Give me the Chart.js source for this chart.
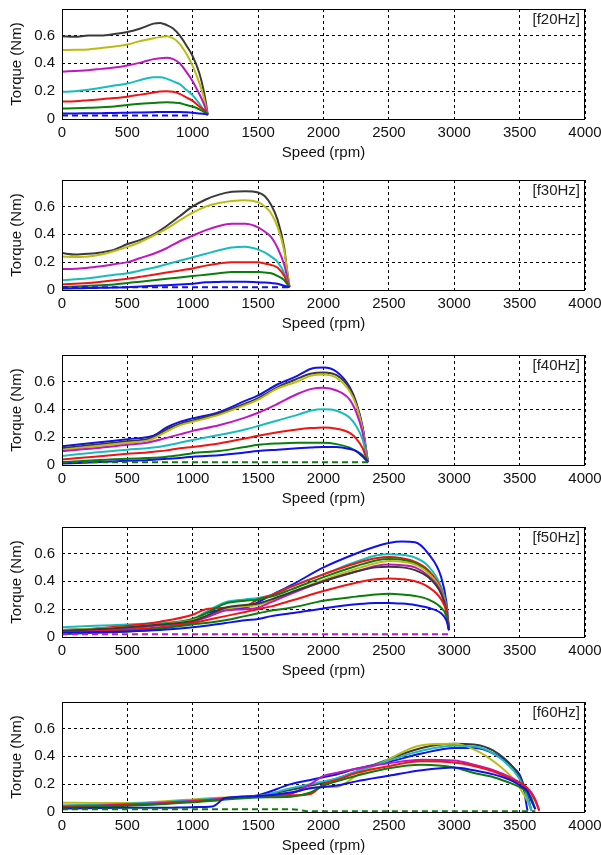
<!DOCTYPE html>
<html>
<head>
<meta charset="utf-8">
<script src="https://cdn.jsdelivr.net/npm/chart.js@4.4.1/dist/chart.umd.min.js"></script>
<style>
  body { margin: 0; background: #fff; width: 601px; height: 855px; overflow: hidden; position: relative; }
  .panel { position: absolute; left: 0; width: 601px; height: 171px; }
</style>
</head>
<body>
<div class="panel" style="top:0px"><canvas id="c20" width="601" height="171"></canvas></div>
<div class="panel" style="top:171px"><canvas id="c30" width="601" height="171"></canvas></div>
<div class="panel" style="top:346px"><canvas id="c40" width="601" height="171"></canvas></div>
<div class="panel" style="top:518px"><canvas id="c50" width="601" height="171"></canvas></div>
<div class="panel" style="top:693px"><canvas id="c60" width="601" height="171"></canvas></div>
<script>
// ---- datos ----
const xTicks = [0, 500, 1000, 1500, 2000, 2500, 3000, 3500, 4000];
const yTicks = [0, 0.2, 0.4, 0.6];

// f = 20 Hz
const speed20 = [0, 100, 200, 300, 400, 500, 600, 700, 750, 800, 850, 900, 950, 1000, 1050, 1080, 1100, 1115];
const f20Black   = [0.595, 0.59, 0.6, 0.6, 0.61, 0.625, 0.65, 0.685, 0.69, 0.675, 0.65, 0.6, 0.53, 0.45, 0.33, 0.22, 0.12, 0.03];
const f20Yellow  = [0.495, 0.497, 0.5, 0.51, 0.52, 0.535, 0.56, 0.58, 0.588, 0.595, 0.58, 0.54, 0.47, 0.38, 0.26, 0.17, 0.09, 0.03];
const f20Magenta = [0.34, 0.345, 0.35, 0.36, 0.37, 0.385, 0.405, 0.43, 0.437, 0.44, 0.43, 0.4, 0.34, 0.27, 0.18, 0.12, 0.07, 0.03];
const f20Cyan    = [0.195, 0.2, 0.21, 0.225, 0.24, 0.255, 0.28, 0.3, 0.3, 0.29, 0.27, 0.25, 0.21, 0.17, 0.11, 0.07, 0.05, 0.03];
const f20Red     = [0.125, 0.128, 0.135, 0.142, 0.15, 0.16, 0.175, 0.19, 0.197, 0.2, 0.195, 0.18, 0.155, 0.13, 0.09, 0.07, 0.05, 0.03];
const f20Green   = [0.075, 0.077, 0.08, 0.085, 0.09, 0.1, 0.11, 0.115, 0.118, 0.12, 0.118, 0.115, 0.1, 0.09, 0.07, 0.055, 0.045, 0.03];
const f20Blue    = [0.04, 0.04, 0.041, 0.042, 0.043, 0.045, 0.047, 0.049, 0.05, 0.05, 0.05, 0.05, 0.048, 0.045, 0.04, 0.037, 0.035, 0.03];
const f20BlueDash = [0.025, 0.025, 0.025, 0.025, 0.025, 0.025, 0.025, 0.025, 0.025, 0.025, 0.025, 0.025, 0.025, 0.025, null, null, null, null];

// f = 30 Hz
const speed30 = [0, 100, 200, 300, 400, 500, 600, 700, 800, 900, 1000, 1100, 1200, 1300, 1400, 1500, 1550, 1600, 1650, 1700, 1720, 1740];
const f30Black   = [0.265, 0.255, 0.26, 0.27, 0.29, 0.33, 0.36, 0.4, 0.46, 0.53, 0.6, 0.65, 0.685, 0.705, 0.71, 0.7, 0.675, 0.61, 0.5, 0.3, 0.15, 0.02];
const f30Yellow  = [0.24, 0.237, 0.24, 0.255, 0.28, 0.31, 0.345, 0.39, 0.44, 0.5, 0.555, 0.6, 0.625, 0.64, 0.645, 0.63, 0.6, 0.55, 0.45, 0.28, 0.15, 0.02];
const f30Magenta = [0.15, 0.152, 0.16, 0.17, 0.185, 0.2, 0.23, 0.26, 0.3, 0.35, 0.39, 0.43, 0.46, 0.475, 0.475, 0.45, 0.42, 0.38, 0.3, 0.18, 0.1, 0.02];
const f30Cyan    = [0.07, 0.077, 0.085, 0.097, 0.11, 0.12, 0.14, 0.16, 0.185, 0.21, 0.235, 0.26, 0.285, 0.305, 0.31, 0.29, 0.27, 0.24, 0.2, 0.12, 0.07, 0.02];
const f30Red     = [0.04, 0.045, 0.05, 0.06, 0.07, 0.08, 0.095, 0.11, 0.125, 0.14, 0.155, 0.175, 0.19, 0.2, 0.2, 0.2, 0.19, 0.18, 0.16, 0.1, 0.06, 0.02];
const f30Green   = [0.02, 0.025, 0.03, 0.035, 0.04, 0.05, 0.06, 0.07, 0.08, 0.09, 0.1, 0.11, 0.12, 0.13, 0.13, 0.13, 0.125, 0.12, 0.1, 0.07, 0.045, 0.02];
const f30Blue    = [0.01, 0.012, 0.014, 0.016, 0.018, 0.02, 0.025, 0.03, 0.035, 0.04, 0.045, 0.055, 0.058, 0.06, 0.06, 0.055, 0.053, 0.05, 0.045, 0.03, 0.025, 0.02];
const f30BlueDash = [0.02, 0.02, 0.02, 0.02, 0.02, 0.02, 0.02, 0.02, 0.02, 0.02, 0.02, 0.02, 0.02, 0.02, 0.02, 0.02, 0.02, 0.02, 0.02, 0.02, 0.02, 0.02];

// f = 40 Hz
const speed40 = [0, 250, 500, 650, 700, 800, 900, 1000, 1200, 1400, 1500, 1650, 1800, 1900, 2000, 2100, 2200, 2250, 2300, 2320, 2340];
const f40GreenDash = [0.02, 0.02, 0.02, 0.02, 0.02, 0.02, 0.02, 0.02, 0.02, 0.02, 0.02, 0.02, 0.02, 0.02, 0.02, 0.02, 0.02, 0.02, 0.02, 0.02, 0.02];
const f40Blue2   = [0.01, 0.02, 0.03, 0.035, 0.037, 0.045, 0.05, 0.06, 0.07, 0.09, 0.1, 0.11, 0.12, 0.125, 0.13, 0.13, 0.115, 0.1, 0.06, 0.04, 0.02];
const f40Green   = [0.02, 0.035, 0.045, 0.05, 0.052, 0.06, 0.07, 0.085, 0.1, 0.13, 0.145, 0.155, 0.16, 0.16, 0.16, 0.15, 0.125, 0.1, 0.07, 0.05, 0.02];
const f40Red     = [0.04, 0.06, 0.08, 0.09, 0.095, 0.105, 0.12, 0.13, 0.155, 0.19, 0.21, 0.235, 0.255, 0.265, 0.27, 0.26, 0.23, 0.19, 0.12, 0.07, 0.02];
const f40Cyan    = [0.065, 0.09, 0.11, 0.12, 0.125, 0.14, 0.16, 0.18, 0.215, 0.255, 0.28, 0.32, 0.36, 0.39, 0.4, 0.39, 0.34, 0.28, 0.18, 0.1, 0.02];
const f40Magenta = [0.1, 0.12, 0.145, 0.16, 0.17, 0.195, 0.22, 0.245, 0.285, 0.34, 0.375, 0.44, 0.51, 0.545, 0.555, 0.535, 0.47, 0.38, 0.23, 0.12, 0.02];
const f40Yellow  = [0.11, 0.135, 0.16, 0.175, 0.19, 0.24, 0.285, 0.31, 0.36, 0.43, 0.47, 0.55, 0.6, 0.64, 0.65, 0.625, 0.53, 0.43, 0.25, 0.14, 0.02];
const f40Black   = [0.12, 0.145, 0.17, 0.185, 0.2, 0.255, 0.295, 0.32, 0.37, 0.44, 0.48, 0.56, 0.62, 0.655, 0.665, 0.645, 0.55, 0.44, 0.26, 0.14, 0.02];
const f40BlueTop = [0.135, 0.16, 0.185, 0.2, 0.21, 0.27, 0.31, 0.335, 0.38, 0.46, 0.5, 0.58, 0.64, 0.69, 0.7, 0.67, 0.56, 0.45, 0.27, 0.15, 0.02];

// f = 50 Hz
const speed50 = [0, 250, 500, 750, 1000, 1100, 1250, 1400, 1500, 1600, 1750, 2000, 2250, 2400, 2500, 2600, 2700, 2800, 2900, 2940, 2960];
const f50MagentaDash = [0.02, 0.02, 0.02, 0.02, 0.02, 0.02, 0.02, 0.02, 0.02, 0.02, 0.02, 0.02, 0.02, 0.02, 0.02, 0.02, 0.02, 0.02, 0.02, 0.02, 0.02];
const f50Blue2   = [0.03, 0.035, 0.04, 0.05, 0.07, 0.08, 0.1, 0.12, 0.13, 0.15, 0.17, 0.205, 0.235, 0.245, 0.245, 0.24, 0.23, 0.21, 0.17, 0.12, 0.05];
const f50Green2  = [0.02, 0.03, 0.04, 0.06, 0.09, 0.1, 0.12, 0.15, 0.17, 0.19, 0.21, 0.26, 0.29, 0.305, 0.31, 0.305, 0.295, 0.27, 0.21, 0.15, 0.05];
const f50Red2    = [0.03, 0.04, 0.05, 0.07, 0.1, 0.12, 0.15, 0.18, 0.2, 0.22, 0.26, 0.33, 0.39, 0.415, 0.42, 0.415, 0.4, 0.36, 0.27, 0.18, 0.05];
const f50Black   = [0.045, 0.055, 0.07, 0.09, 0.115, 0.15, 0.21, 0.23, 0.24, 0.27, 0.32, 0.4, 0.47, 0.5, 0.505, 0.5, 0.48, 0.43, 0.31, 0.19, 0.05];
const f50Magenta = [0.04, 0.05, 0.065, 0.085, 0.11, 0.14, 0.19, 0.2, 0.21, 0.25, 0.31, 0.4, 0.47, 0.51, 0.52, 0.515, 0.5, 0.44, 0.32, 0.19, 0.05];
const f50Yellow  = [0.05, 0.06, 0.07, 0.09, 0.12, 0.15, 0.2, 0.22, 0.23, 0.26, 0.32, 0.41, 0.49, 0.53, 0.545, 0.54, 0.52, 0.46, 0.33, 0.2, 0.05];
const f50Green   = [0.03, 0.04, 0.06, 0.09, 0.13, 0.17, 0.24, 0.26, 0.27, 0.29, 0.34, 0.43, 0.51, 0.55, 0.56, 0.555, 0.53, 0.47, 0.33, 0.2, 0.05];
const f50Red     = [0.04, 0.06, 0.08, 0.11, 0.16, 0.2, 0.21, 0.22, 0.27, 0.3, 0.36, 0.45, 0.53, 0.565, 0.575, 0.565, 0.54, 0.48, 0.34, 0.2, 0.05];
const f50Cyan    = [0.07, 0.08, 0.09, 0.1, 0.13, 0.18, 0.25, 0.27, 0.28, 0.3, 0.36, 0.45, 0.54, 0.585, 0.595, 0.59, 0.57, 0.51, 0.36, 0.22, 0.05];
const f50BlueTop = [0.05, 0.06, 0.07, 0.09, 0.12, 0.17, 0.2, 0.21, 0.25, 0.3, 0.37, 0.5, 0.6, 0.65, 0.675, 0.685, 0.68, 0.6, 0.43, 0.25, 0.05];

// f = 60 Hz
const speed60 = [0, 250, 500, 750, 1000, 1150, 1250, 1500, 1750, 1900, 2000, 2100, 2250, 2500, 2750, 3000, 3150, 3300, 3450, 3520, 3560, 3590, 3620, 3650];
const f60GreenDash = [0.02, 0.02, 0.02, 0.02, 0.02, 0.02, 0.02, 0.02, 0.02, 0.005, 0.005, 0.005, 0.005, 0.005, 0.005, 0.005, 0.005, 0.005, 0.005, 0.005, 0.005, 0.005, 0.005, null];
const f60Blue2   = [0.025, 0.028, 0.03, 0.03, 0.035, 0.04, 0.1, 0.115, 0.14, 0.17, 0.18, 0.19, 0.22, 0.26, 0.3, 0.32, 0.3, 0.27, 0.22, 0.18, 0.15, 0.08, 0.02, null];
const f60Green   = [0.03, 0.035, 0.045, 0.055, 0.07, 0.08, 0.09, 0.105, 0.11, 0.14, 0.19, 0.22, 0.26, 0.315, 0.34, 0.32, 0.28, 0.25, 0.2, 0.17, 0.14, 0.1, 0.02, null];
const f60Red     = [0.035, 0.04, 0.05, 0.06, 0.075, 0.085, 0.095, 0.11, 0.12, 0.13, 0.2, 0.23, 0.28, 0.33, 0.365, 0.355, 0.33, 0.29, 0.23, 0.2, 0.17, 0.13, 0.08, 0.01];
const f60Magenta = [0.04, 0.045, 0.055, 0.065, 0.08, 0.09, 0.1, 0.11, 0.13, 0.2, 0.26, 0.28, 0.31, 0.35, 0.375, 0.37, 0.34, 0.3, 0.24, 0.2, 0.17, 0.14, 0.09, 0.01];
const f60Cyan    = [0.045, 0.05, 0.06, 0.07, 0.085, 0.095, 0.1, 0.115, 0.17, 0.2, 0.22, 0.24, 0.29, 0.37, 0.44, 0.475, 0.47, 0.42, 0.3, 0.2, 0.1, 0.01, null, null];
const f60Yellow  = [0.067, 0.065, 0.065, 0.075, 0.09, 0.1, 0.105, 0.115, 0.14, 0.17, 0.18, 0.18, 0.26, 0.38, 0.48, 0.49, 0.45, 0.365, 0.24, 0.145, 0.08, 0.01, null, null];
const f60Black   = [0.045, 0.05, 0.06, 0.07, 0.085, 0.095, 0.1, 0.115, 0.16, 0.19, 0.21, 0.24, 0.29, 0.38, 0.46, 0.49, 0.485, 0.44, 0.32, 0.22, 0.12, 0.01, null, null];
const f60BlueTop = [0.04, 0.045, 0.055, 0.07, 0.085, 0.095, 0.1, 0.12, 0.2, 0.23, 0.25, 0.27, 0.31, 0.36, 0.42, 0.46, 0.46, 0.42, 0.32, 0.22, 0.01, null, null, null];

// colores tipo MATLAB
const C = {
  b: '#1010f0', g: '#0a7d0a', r: '#f01414', c: '#18bcbc',
  m: '#c018c0', y: '#bcbc10', k: '#3a3a3a'
};

function serie(speed, vals, color, dash) {
  return {
    data: speed.map((s, i) => ({ x: s, y: vals[i] })),
    borderColor: color,
    borderWidth: 2,
    borderDash: dash ? [6, 4] : [],
    pointRadius: 0,
    fill: false,
    spanGaps: false,
    cubicInterpolationMode: 'monotone'
  };
}

// marco negro + etiqueta [fXXHz]
const marco = {
  id: 'marco',
  afterDraw(chart, args, opts) {
    const { ctx, chartArea: a } = chart;
    ctx.save();
    ctx.strokeStyle = '#000';
    ctx.lineWidth = 1;
    ctx.setLineDash([]);
    ctx.strokeRect(a.left + 0.5, a.top + 0.5, a.right - a.left - 1, a.bottom - a.top);
    ctx.font = '15px "Liberation Sans", Arial, sans-serif';
    ctx.fillStyle = '#222';
    ctx.textAlign = 'right';
    ctx.textBaseline = 'middle';
    ctx.fillText(opts.text, a.right - 5, a.top + 11);
    ctx.restore();
  }
};

const fuente = { family: '"Liberation Sans", Arial, sans-serif', size: 15 };

function crear(id, etiqueta, datasets) {
  return new Chart(document.getElementById(id), {
    type: 'line',
    data: { datasets },
    plugins: [marco],
    options: {
      responsive: false,
      animation: false,
      layout: { padding: { left: 0, right: 16, top: 9, bottom: 0 } },
      plugins: {
        legend: { display: false },
        tooltip: { enabled: false },
        marco: { text: etiqueta }
      },
      scales: {
        x: {
          type: 'linear',
          min: 0, max: 4000,
          afterFit: s => { s.height = 52; s.paddingLeft = 0; s.paddingRight = 0; },
          afterBuildTicks: s => { s.ticks = xTicks.map(v => ({ value: v })); },
          grid: { color: '#000', lineWidth: 1, drawTicks: false },
          border: { display: false, dash: [3, 3] },
          ticks: {
            color: '#111', font: fuente, padding: 5, maxRotation: 0, autoSkip: false,
            callback: v => String(v)
          },
          title: { display: true, text: 'Speed (rpm)', color: '#111', font: fuente, padding: { top: 0, bottom: 9 } }
        },
        y: {
          min: 0, max: 0.79,
          afterFit: s => { s.width = 62; s.paddingTop = 0; s.paddingBottom = 0; },
          afterBuildTicks: s => { s.ticks = yTicks.map(v => ({ value: v })); },
          grid: { color: '#000', lineWidth: 1, drawTicks: false },
          border: { display: false, dash: [3, 3] },
          ticks: {
            color: '#111', font: fuente, padding: 7,
            callback: v => v === 0 ? '0' : v.toFixed(1)
          },
          title: { display: true, text: 'Torque (Nm)', color: '#111', font: fuente, padding: { top: 8, bottom: 0 } }
        }
      }
    }
  });
}

crear('c20', '[f20Hz]', [
  serie(speed20, f20BlueDash, C.b, true),
  serie(speed20, f20Blue, C.b),
  serie(speed20, f20Green, C.g),
  serie(speed20, f20Red, C.r),
  serie(speed20, f20Cyan, C.c),
  serie(speed20, f20Magenta, C.m),
  serie(speed20, f20Yellow, C.y),
  serie(speed20, f20Black, C.k)
]);

crear('c30', '[f30Hz]', [
  serie(speed30, f30BlueDash, C.b, true),
  serie(speed30, f30Blue, C.b),
  serie(speed30, f30Green, C.g),
  serie(speed30, f30Red, C.r),
  serie(speed30, f30Cyan, C.c),
  serie(speed30, f30Magenta, C.m),
  serie(speed30, f30Yellow, C.y),
  serie(speed30, f30Black, C.k)
]);

crear('c40', '[f40Hz]', [
  serie(speed40, f40GreenDash, C.g, true),
  serie(speed40, f40Blue2, C.b),
  serie(speed40, f40Green, C.g),
  serie(speed40, f40Red, C.r),
  serie(speed40, f40Cyan, C.c),
  serie(speed40, f40Magenta, C.m),
  serie(speed40, f40Yellow, C.y),
  serie(speed40, f40Black, C.k),
  serie(speed40, f40BlueTop, C.b)
]);

crear('c50', '[f50Hz]', [
  serie(speed50, f50MagentaDash, C.m, true),
  serie(speed50, f50Blue2, C.b),
  serie(speed50, f50Green2, C.g),
  serie(speed50, f50Red2, C.r),
  serie(speed50, f50Black, C.k),
  serie(speed50, f50Magenta, C.m),
  serie(speed50, f50Yellow, C.y),
  serie(speed50, f50Green, C.g),
  serie(speed50, f50Red, C.r),
  serie(speed50, f50Cyan, C.c),
  serie(speed50, f50BlueTop, C.b)
]);

crear('c60', '[f60Hz]', [
  serie(speed60, f60GreenDash, C.g, true),
  serie(speed60, f60Blue2, C.b),
  serie(speed60, f60Green, C.g),
  serie(speed60, f60Red, C.r),
  serie(speed60, f60Magenta, C.m),
  serie(speed60, f60Cyan, C.c),
  serie(speed60, f60Yellow, C.y),
  serie(speed60, f60Black, C.k),
  serie(speed60, f60BlueTop, C.b)
]);
</script>
</body>
</html>
